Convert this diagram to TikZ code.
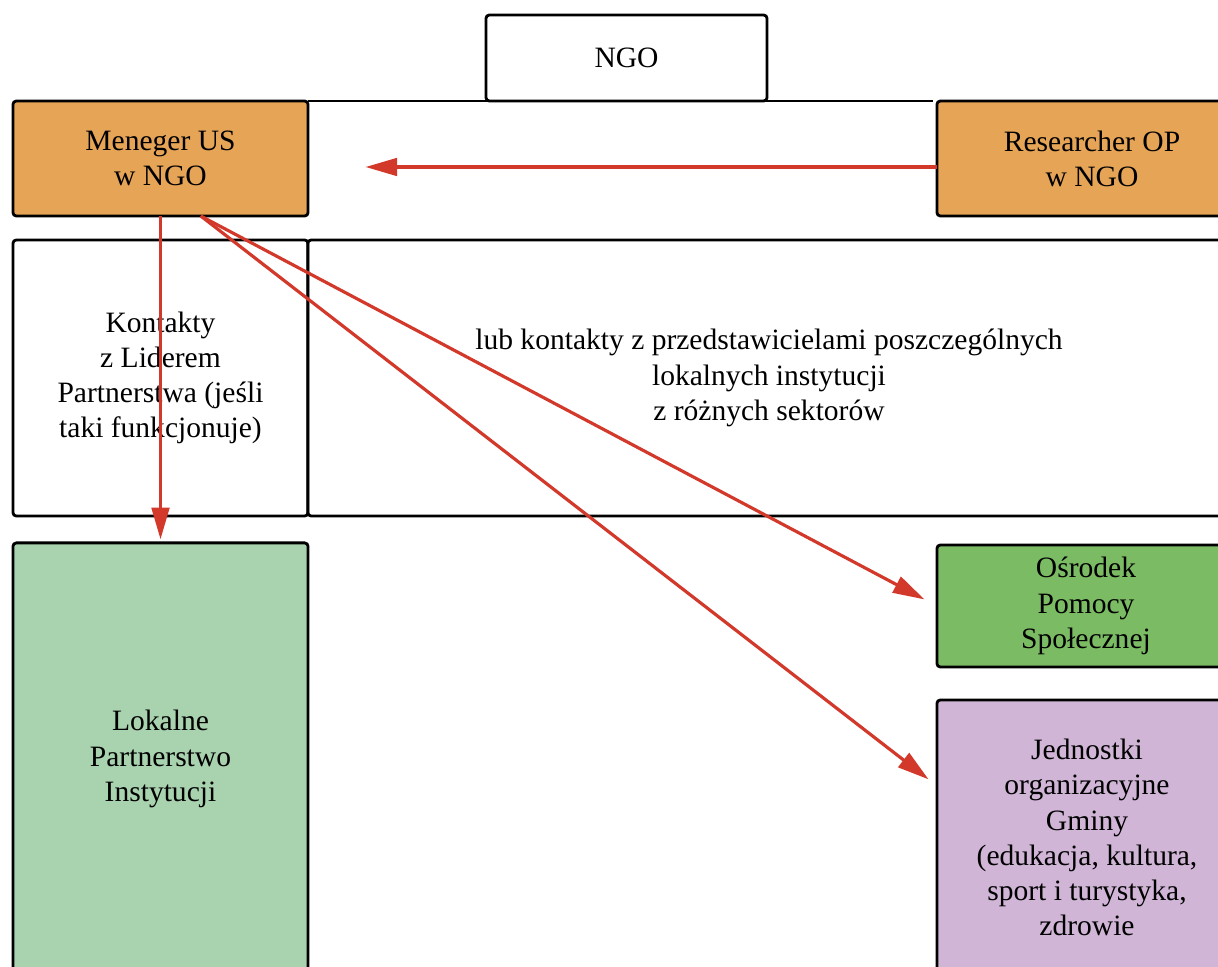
\documentclass[tikz,border=0pt]{standalone}
\usepackage{fontspec}
\setmainfont{Liberation Serif}
\usepackage{tikz}
\usetikzlibrary{arrows.meta}
\definecolor{boxorange}{HTML}{E6A456}
\definecolor{boxmint}{HTML}{A9D2AF}
\definecolor{boxgreen}{HTML}{7BBB63}
\definecolor{boxlilac}{HTML}{D0B5D7}
\definecolor{arrowred}{HTML}{D2392B}

\begin{document}
\begin{tikzpicture}[x=0.01cm,y=-0.01cm,>={Triangle[length=9pt,width=5pt]},
                    shorten >=1pt,thick,
                    font=\fontsize{8.4pt}{10pt}\selectfont]
  \tikzstyle{every box}=[draw=black,rounded corners=1pt,inner sep=0pt,outer sep=0pt,align=center]
  \tikzstyle{link}=[->,color=arrowred,line width=0.9pt]

  \useasboundingbox (0,0) rectangle (1218,967);

  \node[every box,minimum width=2.81cm,minimum height=0.86cm] (N) at (626.5,58)    {NGO};
  \node[every box,fill=boxorange,minimum width=2.95cm,minimum height=1.15cm] (M) at (160.5,158.5) {Meneger US\\w NGO};
  \node[every box,fill=boxorange,minimum width=3.10cm,minimum height=1.15cm] (R) at (1092,158.5)  {Researcher OP\\w NGO};
  \node[every box,minimum width=2.95cm,minimum height=2.76cm] (K) at (160.5,378)  {Kontakty\\z Liderem\\Partnerstwa (jeśli\\taki funkcjonuje)};
  \node[every box,minimum width=9.22cm,minimum height=2.76cm] (B) at (769,378)    {lub kontakty z przedstawicielami poszczególnych\\lokalnych instytucji\\z różnych sektorów};
  \node[every box,fill=boxmint,minimum width=2.95cm,minimum height=4.32cm] (L) at (160.5,759)  {Lokalne\\Partnerstwo\\Instytucji};
  \node[every box,fill=boxgreen,minimum width=2.98cm,minimum height=1.22cm] (O) at (1086,606)   {Ośrodek\\Pomocy\\Społecznej};
  \node[every box,fill=boxlilac,minimum width=3.00cm,minimum height=2.75cm] (J) at (1087,837.5) {Jednostki\\organizacyjne\\Gminy\\(edukacja, kultura,\\sport i turystyka,\\zdrowie};

  \coordinate (Rtip) at (362,167);

  \draw (M.north east) -- (R.north west);

  \path (R.west |- Rtip) edge[link] (Rtip)
        (M.south)   edge[link] (L.north)
        (M.-55)     edge[link,shorten >=4pt] (O.west)
        (M.-55)     edge[link,shorten >=3pt] (J.161);
\end{tikzpicture}
\end{document}
